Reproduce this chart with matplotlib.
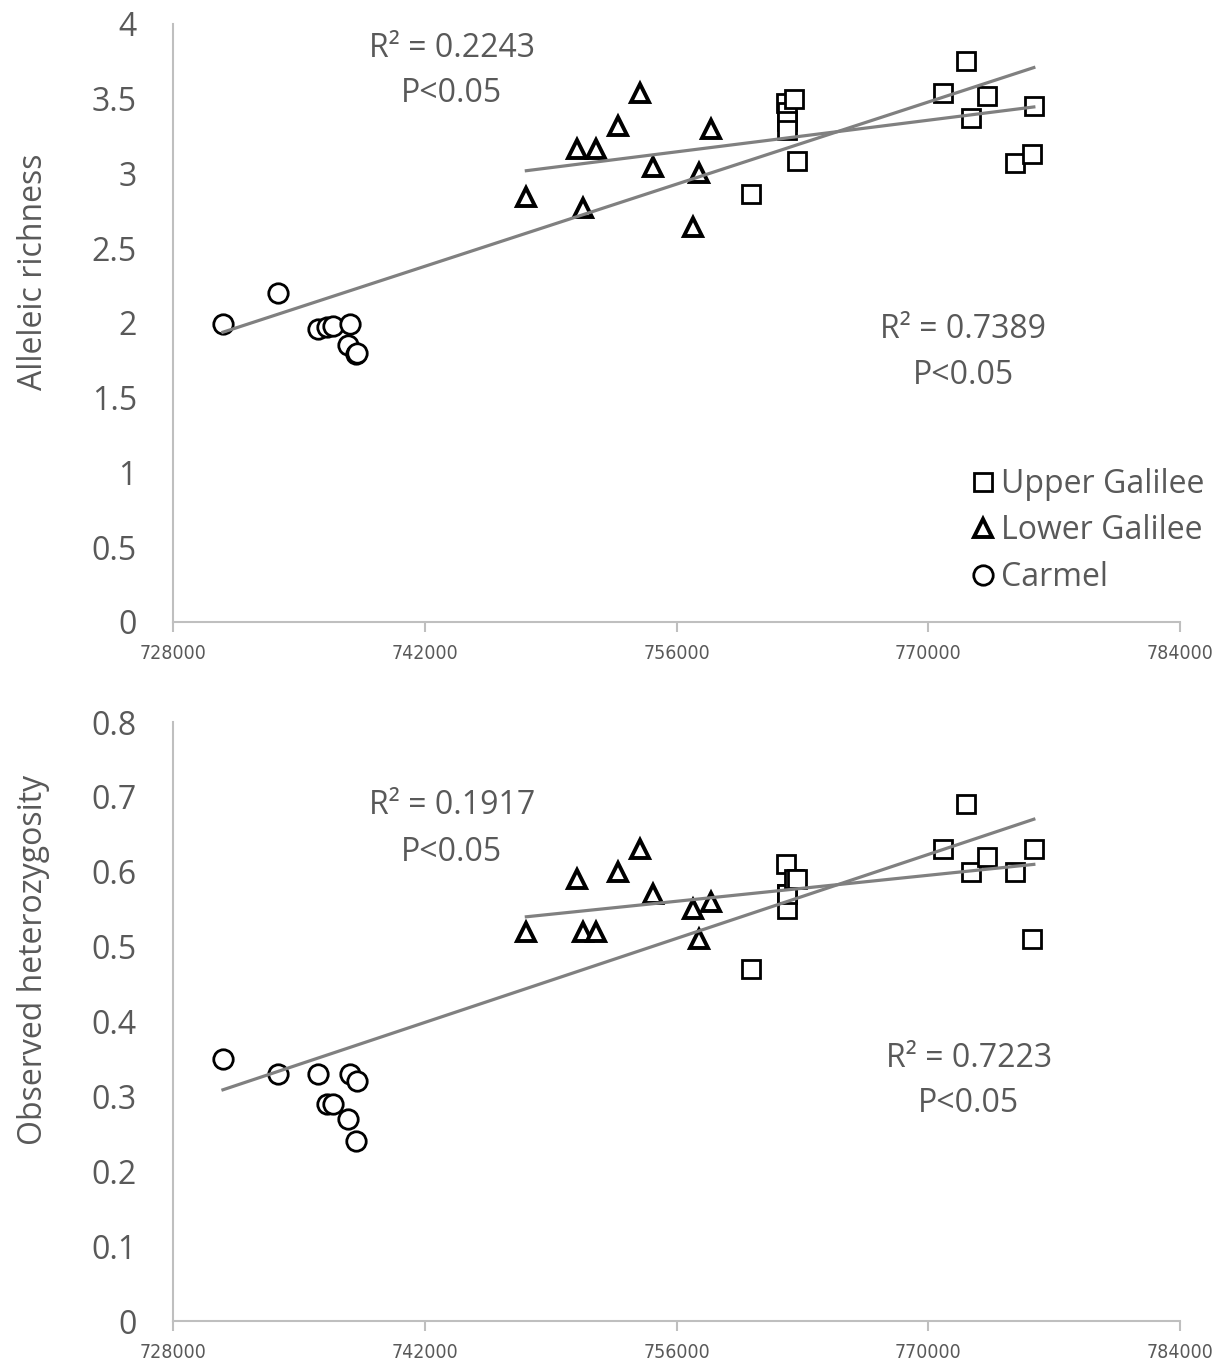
import numpy as np
import matplotlib
matplotlib.use("Agg")
import matplotlib.pyplot as plt
from matplotlib.ticker import FuncFormatter

plt.rcParams['font.family'] = ['Open Sans', 'DejaVu Sans']

# site coordinates (easting) and values, per region
carmel_x = [730780, 733840, 736060, 736560, 736900, 737730, 737840, 738170, 738230]
carmel_ar = [1.99, 2.20, 1.96, 1.97, 1.98, 1.85, 1.99, 1.79, 1.80]
carmel_ho = [0.35, 0.33, 0.33, 0.29, 0.29, 0.27, 0.33, 0.24, 0.32]

lower_x = [747650, 750460, 750800, 751520, 752740, 753970, 754690, 756910, 757250, 757910]
lower_ar = [2.84, 3.16, 2.77, 3.16, 3.32, 3.54, 3.04, 2.64, 3.00, 3.30]
lower_ho = [0.52, 0.59, 0.52, 0.52, 0.60, 0.63, 0.57, 0.55, 0.51, 0.56]

upper_x = [760140, 762080, 762140, 762160, 762170, 762530, 762690,
           770810, 772090, 772370, 773260, 774820, 775760, 775870]
upper_ar = [2.86, 3.47, 3.41, 3.35, 3.29, 3.50, 3.08,
            3.54, 3.75, 3.37, 3.52, 3.07, 3.13, 3.45]
upper_ho = [0.47, 0.61, 0.57, 0.55, 0.57, 0.59, 0.59,
            0.63, 0.69, 0.60, 0.62, 0.60, 0.51, 0.63]

x_ticks = [728000, 742000, 756000, 770000, 784000]

panels = [
    dict(ylabel="Alleleic richness", ylim=(0, 4), ystep=0.5, label_y=0.585,
         c=carmel_ar, l=lower_ar, u=upper_ar,
         notes=[("R\u00b2 = 0.2243", 743500, 3.833), ("P<0.05", 743500, 3.532),
                ("R\u00b2 = 0.7389", 771950, 1.953), ("P<0.05", 771950, 1.645)]),
    dict(ylabel="Observed heterozygosity", ylim=(0, 0.8), ystep=0.1, label_y=0.603,
         c=carmel_ho, l=lower_ho, u=upper_ho,
         notes=[("R\u00b2 = 0.1917", 743500, 0.688), ("P<0.05", 743500, 0.626),
                ("R\u00b2 = 0.7223", 772250, 0.351), ("P<0.05", 772250, 0.290)]),
]

grey = '#595959'
fs = 23
fig = plt.figure(figsize=(12.25, 13.66), dpi=100)
boxes = [[0.1412, 0.5447, 0.8221, 0.4378], [0.1412, 0.0329, 0.8221, 0.4385]]

for i, (box, p) in enumerate(zip(boxes, panels)):
    ax = fig.add_axes(box)
    mk = dict(linestyle='none', mfc='white', mec='black', zorder=3)
    ax.plot(upper_x, p['u'], 's', ms=13.5, mew=2.0, label='Upper Galilee', **mk)
    ax.plot(lower_x, p['l'], '^', ms=12.5, mew=2.8, label='Lower Galilee', **mk)
    ax.plot(carmel_x, p['c'], 'o', ms=14, mew=2.0, label='Carmel', **mk)

    # trend lines: all sites, and Galilee sites only
    all_x = np.array(carmel_x + lower_x + upper_x)
    all_y = np.array(p['c'] + p['l'] + p['u'])
    gal_x = np.array(lower_x + upper_x)
    gal_y = np.array(p['l'] + p['u'])
    for xs, ys in [(all_x, all_y), (gal_x, gal_y)]:
        k, b = np.polyfit(xs, ys, 1)
        xx = np.array([xs.min(), xs.max()])
        ax.plot(xx, k * xx + b, color='#808080', lw=2.3, zorder=4)

    ax.set_xlim(728000, 784000)
    ax.set_ylim(*p['ylim'])
    ax.set_xticks(x_ticks)
    ax.set_xticklabels([str(t) for t in x_ticks], fontsize=14, color=grey,
                       family=['DejaVu Sans'], fontstretch='condensed')
    ax.set_yticks(np.arange(p['ylim'][0], p['ylim'][1] + p['ystep'] / 2, p['ystep']))
    ax.yaxis.set_major_formatter(FuncFormatter(lambda v, pos: f"{round(v, 2):g}"))
    ax.tick_params(axis='y', length=0, pad=26, labelsize=fs, labelcolor=grey)
    ax.tick_params(axis='x', length=7, width=1.5, color='#bfbfbf', pad=9)
    for s in ['top', 'right']:
        ax.spines[s].set_visible(False)
    for s in ['left', 'bottom']:
        ax.spines[s].set_color('#bfbfbf')
        ax.spines[s].set_linewidth(1.5)
    ax.set_ylabel(p['ylabel'], fontsize=fs, color=grey, va='center')
    ax.yaxis.set_label_coords(-0.138, p['label_y'])

    for t, xv, yv in p['notes']:
        ax.text(xv, yv, t, ha='center', va='center', fontsize=fs, color=grey)

    if i == 0:
        ax.legend(loc='lower right', bbox_to_anchor=(1.024, 0.047), frameon=False,
                  fontsize=fs, labelcolor=grey, handletextpad=0.1,
                  handlelength=0.9, markerscale=1.0, labelspacing=0.42,
                  borderaxespad=0.0, borderpad=0.0)

fig.savefig("out.png", dpi=100)
